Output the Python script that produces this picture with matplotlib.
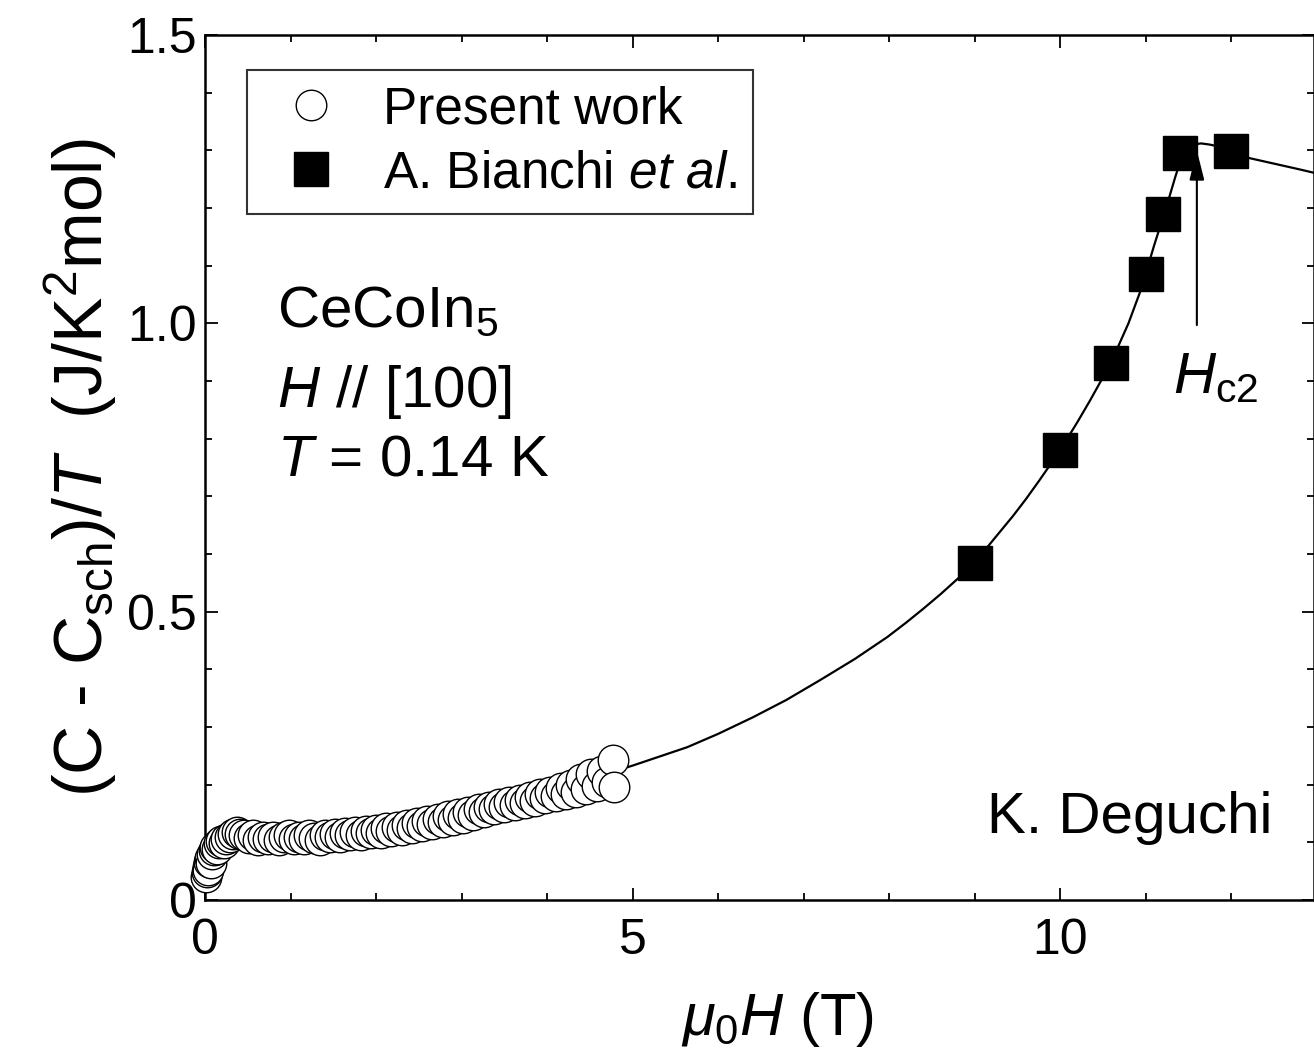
import numpy as np
import matplotlib
matplotlib.use('Agg')
import matplotlib.pyplot as plt
from matplotlib.ticker import MultipleLocator

plt.rcParams['font.family'] = 'Liberation Sans'
plt.rcParams['mathtext.fontset'] = 'custom'
plt.rcParams['mathtext.rm'] = 'Liberation Sans'
plt.rcParams['mathtext.it'] = 'Liberation Sans:italic'
plt.rcParams['mathtext.bf'] = 'Liberation Sans:bold'

# present work: C/T vs field at 0.14 K
pw_H = [0.01, 0.02, 0.03, 0.04, 0.05, 0.06, 0.07, 0.08, 0.10, 0.12, 0.14, 0.16,
        0.19, 0.22, 0.25, 0.29, 0.33, 0.37, 0.41, 0.46, 0.51, 0.56, 0.62, 0.68,
        0.74, 0.80, 0.86, 0.92, 0.98, 1.04, 1.10, 1.16, 1.22, 1.28, 1.34, 1.40,
        1.46, 1.52, 1.58, 1.64, 1.70, 1.76, 1.82, 1.88, 1.94, 2.00, 2.06, 2.12,
        2.18, 2.24, 2.30, 2.36, 2.42, 2.48, 2.54, 2.60, 2.66, 2.72, 2.78, 2.84,
        2.90, 2.96, 3.02, 3.08, 3.14, 3.20, 3.26, 3.32, 3.38, 3.44, 3.50, 3.56,
        3.62, 3.68, 3.74, 3.80, 3.86, 3.92, 3.98, 4.04, 4.10, 4.16, 4.22, 4.28,
        4.34, 4.40, 4.46, 4.52, 4.58, 4.64, 4.70, 4.77, 4.78]
pw_C = [0.040, 0.048, 0.058, 0.052, 0.066, 0.072, 0.064, 0.080, 0.086, 0.092, 0.088, 0.098,
        0.102, 0.098, 0.106, 0.110, 0.114, 0.118, 0.115, 0.112, 0.108, 0.112, 0.104, 0.109,
        0.105, 0.110, 0.104, 0.109, 0.112, 0.105, 0.110, 0.106, 0.112, 0.108, 0.104, 0.112,
        0.109, 0.114, 0.110, 0.116, 0.113, 0.118, 0.112, 0.120, 0.116, 0.121, 0.117, 0.124,
        0.119, 0.126, 0.122, 0.130, 0.125, 0.133, 0.128, 0.137, 0.131, 0.140, 0.135, 0.145,
        0.139, 0.149, 0.143, 0.153, 0.148, 0.158, 0.152, 0.162, 0.157, 0.166, 0.161, 0.170,
        0.164, 0.174, 0.168, 0.178, 0.172, 0.183, 0.177, 0.188, 0.180, 0.194, 0.184, 0.200,
        0.188, 0.210, 0.192, 0.218, 0.198, 0.224, 0.205, 0.243, 0.196]

# A. Bianchi et al.
bi_H = [9.0, 10.0, 10.6, 11.0, 11.2, 11.4, 12.0]
bi_C = [0.584, 0.780, 0.931, 1.085, 1.189, 1.295, 1.299]

# guide to the eye
fit_H = [4.80, 5.00, 5.30, 5.64, 6.00, 6.41, 6.80, 7.19, 7.60, 7.98, 8.20, 8.40,
         8.60, 8.75, 8.90, 9.00, 9.15, 9.30, 9.45, 9.60, 9.75, 9.90, 10.05, 10.20,
         10.35, 10.50, 10.65, 10.80, 10.95, 11.10, 11.25, 11.35, 11.42, 11.48, 11.55,
         11.65, 11.75, 11.90, 12.00, 12.20, 12.50, 12.80, 13.00]
fit_C = [0.224, 0.233, 0.248, 0.265, 0.288, 0.317, 0.347, 0.381, 0.418, 0.456, 0.481, 0.505,
         0.530, 0.550, 0.570, 0.586, 0.612, 0.639, 0.666, 0.695, 0.726, 0.758, 0.792, 0.828,
         0.866, 0.906, 0.950, 1.000, 1.060, 1.135, 1.205, 1.255, 1.287, 1.302, 1.310,
         1.312, 1.310, 1.305, 1.300, 1.287, 1.277, 1.267, 1.260]

Hc2 = 11.6

fig = plt.figure(figsize=(13.14, 10.57), dpi=100)
ax = fig.add_axes([205/1314, 157/1057, 1109/1314, 865/1057])

ax.plot(fit_H, fit_C, color='k', lw=1.6, zorder=2)
ax.plot(pw_H, pw_C, 'o', ms=22, mfc='white', mec='k', mew=1.0, ls='none',
        label='Present work', zorder=3, clip_on=False)
ax.plot(bi_H, bi_C, 's', ms=24, mfc='k', mec='k', ls='none',
        label=r'A. Bianchi $\mathit{et\ al.}$', zorder=4)

ax.annotate('', xy=(Hc2, 1.30), xytext=(Hc2, 0.997),
            arrowprops=dict(arrowstyle='-|>,head_length=0.6,head_width=0.15',
                            lw=1.5, color='k', mutation_scale=30, shrinkA=0, shrinkB=0),
            zorder=3)

ax.text(0.065, 0.662, r'CeCoIn$_5$', transform=ax.transAxes, fontsize=42, va='baseline')
ax.text(0.065, 0.570, r'$H$ // [100]', transform=ax.transAxes, fontsize=42, va='baseline')
ax.text(0.065, 0.491, r'$T$ = 0.14 K', transform=ax.transAxes, fontsize=42, va='baseline')
ax.text(0.873, 0.586, r'$H_{\rm c2}$', transform=ax.transAxes, fontsize=42, va='baseline')
ax.text(0.705, 0.0775, 'K. Deguchi', transform=ax.transAxes, fontsize=42, va='baseline')

ax.set_xlim(0, 12.97)
ax.set_ylim(0, 1.5)
ax.xaxis.set_minor_locator(MultipleLocator(1))
ax.yaxis.set_minor_locator(MultipleLocator(0.1))
ax.set_yticks([0, 0.5, 1.0, 1.5])
ax.set_yticklabels(['0', '0.5', '1.0', '1.5'])
ax.set_xticks([0, 5, 10])
ax.set_xticklabels(['0', '5', '10'])
ax.tick_params(which='both', direction='in', top=True, right=True, width=1.3)
ax.tick_params(which='major', length=9, labelsize=36)
ax.tick_params(which='minor', length=5)
ax.tick_params(axis='x', pad=13)
ax.tick_params(axis='y', pad=6)
for s in ax.spines.values():
    s.set_linewidth(1.8)

ax.set_xlabel(r'$\mu_0H$ (T)', fontsize=43)
ax.xaxis.set_label_coords(0.516, -0.104)
ax.set_ylabel(r'(C - C$_{\rm sch}$)/$T$  (J/K$^2$mol)', fontsize=49, labelpad=6)

leg = ax.legend(loc='upper left', bbox_to_anchor=(0.038, 0.96), borderaxespad=0,
                fontsize=37, frameon=True, fancybox=False, edgecolor='k',
                handlelength=1.9, handletextpad=0.45, borderpad=0.3,
                labelspacing=0.3, numpoints=1)
leg.get_frame().set_linewidth(1.5)

plt.savefig('out.png', dpi=100)
